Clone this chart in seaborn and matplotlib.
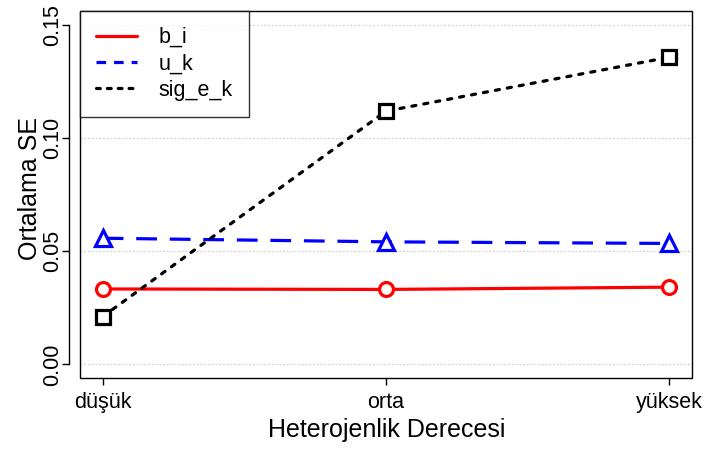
import matplotlib
matplotlib.use("Agg")
import matplotlib.pyplot as plt
import seaborn as sns
import pandas as pd
from matplotlib.patches import Rectangle
from matplotlib.lines import Line2D

categories = ["düşük", "orta", "yüksek"]
b_i = [0.0333, 0.0331, 0.0341]
u_k = [0.0557, 0.0541, 0.0534]
sig_e_k = [0.0211, 0.1118, 0.1356]
yticks = [0.00, 0.05, 0.10, 0.15]
ytick_labels = ["0.00", "0.05", "0.10", "0.15"]

sns.set_style("white")
plt.rcParams["font.family"] = ["Liberation Sans", "DejaVu Sans"]
plt.rcParams["text.color"] = "black"
plt.rcParams["axes.labelcolor"] = "black"
plt.rcParams["xtick.color"] = "black"
plt.rcParams["ytick.color"] = "black"

fig = plt.figure(figsize=(7.04, 4.49), dpi=100)
ax = fig.add_axes([80 / 704, 1 - 378 / 449, (692 - 80) / 704, (378 - 11) / 449])

# spines first (set_position resets tick settings)
for s in ["top", "right", "bottom"]:
    ax.spines[s].set_visible(False)
ax.spines["left"].set_position(("outward", 8))
ax.spines["left"].set_color("black")
ax.spines["left"].set_linewidth(1)

pos = list(range(len(categories)))
series = [
    ("b_i", b_i, "#FF0000", "o", None),
    ("u_k", u_k, "#0000FF", "^", (6.5, 4)),
    ("sig_e_k", sig_e_k, "#000000", "s", (1.3, 2.5)),
]

for y in yticks:
    ax.axhline(y, color="#d3d3d3", lw=0.9, ls=(0, (1.5, 1.5)), zorder=0)

for name, vals, col, mk, dash in series:
    df = pd.DataFrame({"x": pos, "y": vals})
    sns.lineplot(data=df, x="x", y="y", ax=ax, color=col, lw=2.3,
                 marker=mk, markersize=10 if mk != "^" else 11,
                 markerfacecolor="white", markeredgecolor=col,
                 markeredgewidth=2.3, legend=False, zorder=3)
    line = ax.lines[-1]
    if dash is not None:
        line.set_dashes(dash)
        line.set_dash_capstyle("round" if name == "sig_e_k" else "butt")

ax.set_xlim(-0.08, 2.08)
ax.set_ylim(-0.006, 0.156)
ax.spines["left"].set_bounds(0, 0.15)
ax.set_xticks(pos)
ax.set_xticklabels(categories, fontsize=15.5)
ax.set_yticks(yticks)
ax.set_yticklabels(ytick_labels, fontsize=15.5, rotation=90, va="center")
ax.tick_params(axis="both", which="both", direction="out", length=5,
               width=1, color="black", left=True, bottom=True)
ax.tick_params(axis="x", pad=5)
ax.tick_params(axis="y", pad=-1.2)
ax.set_xlabel("Heterojenlik Derecesi", fontsize=18)
ax.set_ylabel("Ortalama SE", fontsize=18)
ax.xaxis.set_label_coords((387 - 80) / 612, -(418 - 378) / 367)
ax.yaxis.set_label_coords(-(80 - 42) / 612, (378 - 189) / 367)

ax.add_patch(Rectangle((0, 0), 1, 1, transform=ax.transAxes, fill=False,
                       edgecolor="black", lw=1, clip_on=False, zorder=5))

leg_handles = [
    Line2D([], [], color="#FF0000", lw=2.3),
    Line2D([], [], color="#0000FF", lw=2.3, dashes=(3, 2.5)),
    Line2D([], [], color="#000000", lw=2.3, dashes=(1.2, 2.2), dash_capstyle="round"),
]
leg = ax.legend(leg_handles, ["b_i", "u_k", "sig_e_k"], loc="upper left",
                borderaxespad=0, fancybox=False, frameon=True, fontsize=15.5,
                handlelength=1.9, handletextpad=1.0, labelspacing=0.25,
                borderpad=0.75)
leg.get_frame().set_edgecolor("black")
leg.get_frame().set_linewidth(1)
leg.get_frame().set_boxstyle("square", pad=0)
for t in leg.get_texts():
    t.set_color("black")

fig.savefig("out.png", dpi=100)
